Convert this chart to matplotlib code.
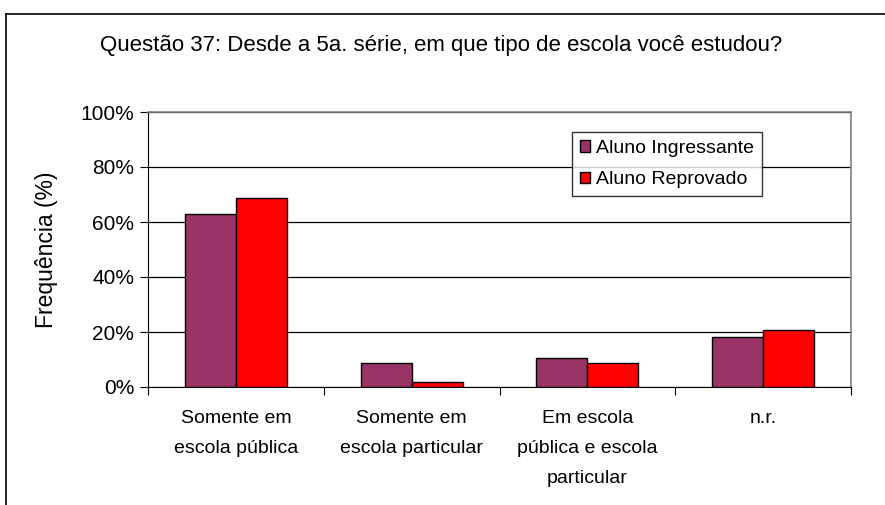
import matplotlib
matplotlib.use("Agg")
import matplotlib.pyplot as plt
import numpy as np
from matplotlib.lines import Line2D

categories = ["Somente em\nescola pública", "Somente em\nescola particular",
              "Em escola\npública e escola\nparticular", "n.r."]
series_names = ["Aluno Ingressante", "Aluno Reprovado"]
ingressante = [62.9, 8.6, 10.5, 18.1]
reprovado = [68.7, 1.7, 8.6, 20.6]
colors = ["#993366", "#FF0000"]
yticks = [0, 20, 40, 60, 80, 100]
title = "Questão 37: Desde a 5a. série, em que tipo de escola você estudou?"
ylabel = "Frequência (%)"

plt.rcParams['font.family'] = ['Liberation Sans', 'DejaVu Sans']

fig = plt.figure(figsize=(8.85, 5.05), dpi=100)
W, H = 885, 505
ax = fig.add_axes([148 / W, 1 - 387 / H, (851 - 148) / W, (387 - 112) / H])

x = np.arange(len(categories))
bw = 0.29
ax.bar(x - bw / 2, ingressante, bw, color=colors[0], edgecolor="black", linewidth=1, label=series_names[0], zorder=3)
ax.bar(x + bw / 2, reprovado, bw, color=colors[1], edgecolor="black", linewidth=1, label=series_names[1], zorder=3)

ax.set_xlim(-0.5, len(categories) - 0.5)
ax.set_ylim(0, 100)
ax.set_yticks(yticks)
ax.set_yticklabels([f"{v}%" for v in yticks], fontsize=15)
ax.yaxis.grid(True, color="black", linewidth=0.9, zorder=0)
ax.set_axisbelow(True)

ax.set_xticks(np.arange(len(categories) + 1) - 0.5)
ax.set_xticklabels([])
ax.tick_params(axis="x", length=6, direction="out", color="black")
ax.tick_params(axis="y", length=6, direction="out", color="black", pad=4)
for i, c in enumerate(categories):
    ax.text(i, -8.5, c, ha="center", va="top", fontsize=14, linespacing=2.0,
            transform=ax.transData)

for s in ["top", "right"]:
    ax.spines[s].set_color("#808080")
    ax.spines[s].set_linewidth(1.2)
ax.spines["left"].set_color("black")
ax.spines["bottom"].set_color("black")

ax.set_ylabel(ylabel, fontsize=16.5, labelpad=16)

leg = ax.legend(loc="upper left", bbox_to_anchor=((572 - 148) / 703, 1 - (132 - 112) / 275),
                fontsize=14, frameon=True, fancybox=False, edgecolor="black",
                handlelength=0.55, handleheight=0.55, handletextpad=0.3, borderpad=0.4,
                labelspacing=0.75, borderaxespad=0)
leg.get_frame().set_linewidth(1)
leg.set_zorder(5)

fig.text(441 / W, 1 - 45 / H, title, ha="center", va="center", fontsize=16)

fig.add_artist(Line2D([6 / W, 1], [1 - 14 / H, 1 - 14 / H], color="black", linewidth=1.2, transform=fig.transFigure))
fig.add_artist(Line2D([6 / W, 6 / W], [0, 1 - 14 / H], color="black", linewidth=1.2, transform=fig.transFigure))

fig.savefig("out.png", dpi=100)
